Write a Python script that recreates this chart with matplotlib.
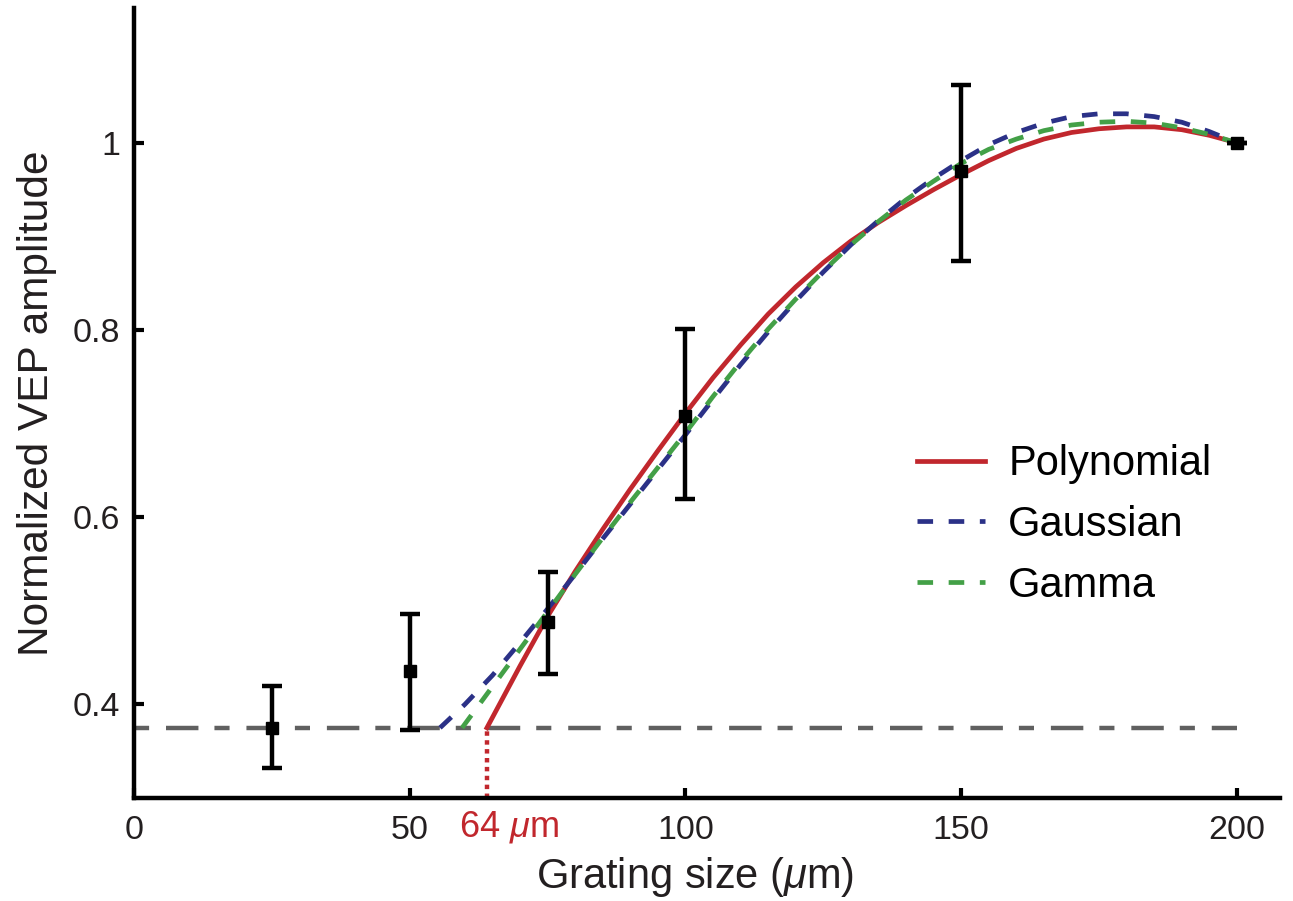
import matplotlib
matplotlib.use("Agg")
import matplotlib.pyplot as plt

plt.rcParams['font.family'] = ['Liberation Sans', 'DejaVu Sans']
plt.rcParams['mathtext.fontset'] = 'custom'
plt.rcParams['mathtext.rm'] = 'Liberation Sans'
plt.rcParams['mathtext.it'] = 'Liberation Sans:italic'

# measured points (grating size in um, normalized amplitude)
grating = [25, 50, 75, 100, 150, 200]
amp = [0.375, 0.436, 0.488, 0.708, 0.970, 1.0]
err_lo = [0.043, 0.063, 0.056, 0.089, 0.096, 0.0]
err_hi = [0.045, 0.061, 0.054, 0.093, 0.092, 0.0]

baseline = 0.375
threshold = 64

# fitted curves
poly_x = [64, 67, 70, 75, 80, 85, 90, 95, 100, 105, 110, 115, 120, 125, 130,
          135, 140, 145, 150, 155, 160, 165, 170, 175, 180, 185, 190, 195, 200]
poly_y = [0.375, 0.408, 0.441, 0.494, 0.542, 0.587, 0.630, 0.671, 0.711, 0.749,
          0.784, 0.817, 0.846, 0.872, 0.895, 0.915, 0.933, 0.950, 0.966, 0.981,
          0.994, 1.004, 1.011, 1.015, 1.017, 1.017, 1.014, 1.008, 1.0]

gauss_x = [55.5, 60, 65, 70, 75, 80, 85, 90, 95, 100, 105, 110, 115, 120, 125,
           130, 135, 140, 145, 150, 155, 160, 165, 170, 175, 180, 185, 190,
           195, 200]
gauss_y = [0.375, 0.400, 0.431, 0.466, 0.502, 0.539, 0.577, 0.614, 0.651, 0.688,
           0.726, 0.763, 0.798, 0.831, 0.862, 0.891, 0.917, 0.941, 0.962, 0.981,
           0.998, 1.011, 1.021, 1.028, 1.031, 1.031, 1.028, 1.022, 1.012, 1.0]

gamma_x = [59.5, 65, 70, 75, 80, 85, 90, 95, 100, 105, 110, 115, 120, 125, 130,
           135, 140, 145, 150, 155, 160, 165, 170, 175, 180, 185, 190, 195, 200]
gamma_y = [0.375, 0.419, 0.459, 0.499, 0.539, 0.578, 0.616, 0.653, 0.690, 0.729,
           0.766, 0.801, 0.833, 0.863, 0.891, 0.916, 0.939, 0.959, 0.978, 0.993,
           1.004, 1.013, 1.019, 1.022, 1.023, 1.021, 1.016, 1.009, 1.0]

red = '#c1272d'
navy = '#2b3187'
green = '#43a047'
gray = '#606060'
ink = '#231f20'

fig = plt.figure(figsize=(12.93, 9.01), dpi=100)
ax = fig.add_axes([0.1036, 0.1143, 0.8863, 0.8768])

ax.plot([0, 200], [baseline, baseline], color=gray, lw=3.2,
        dashes=(3.4, 3.8, 7.3, 3.6), zorder=1)
ax.plot([threshold, threshold], [0.3, baseline], color=red, lw=3.2,
        dashes=(1, 1), zorder=2)

ax.plot(poly_x, poly_y, color=red, lw=3.4, label='Polynomial', zorder=3,
        solid_joinstyle='round')
ax.plot(gauss_x, gauss_y, color=navy, lw=3.4, dashes=(3.3, 3.3),
        label='Gaussian', zorder=3)
ax.plot(gamma_x, gamma_y, color=green, lw=3.4, dashes=(3.3, 3.3),
        label='Gamma', zorder=4)

ax.errorbar(grating, amp, yerr=[err_lo, err_hi], fmt='s', color='black',
            ms=8.5, elinewidth=3.2, capsize=7, capthick=3.2, zorder=5)

ax.set_xlim(0, 207.8)
ax.set_ylim(0.3, 1.144)
ax.set_xticks([0, 50, 100, 150, 200])
ax.set_yticks([0.4, 0.6, 0.8, 1.0])
ax.set_yticklabels(['0.4', '0.6', '0.8', '1'])

for s in ['top', 'right']:
    ax.spines[s].set_visible(False)
for s in ['left', 'bottom']:
    ax.spines[s].set_linewidth(3.2)
ax.tick_params(direction='in', length=7, width=3, labelsize=24.5,
               labelcolor=ink)
ax.tick_params(axis='x', pad=12)
ax.tick_params(axis='y', pad=10)

ax.text(68, 0.288, r'64 $\mu$m', color=red, fontsize=26,
        ha='center', va='top')

ax.set_xlabel(r'Grating size ($\mu$m)', fontsize=30, color=ink)
ax.xaxis.set_label_coords(0.49, -0.072)
ax.set_ylabel('Normalized VEP amplitude', fontsize=30.5, color=ink,
              labelpad=11)

ax.legend(loc='center left', bbox_to_anchor=(0.683, 0.3456), frameon=False,
          fontsize=30, handlelength=1.65, handletextpad=0.55,
          labelspacing=0.5, borderpad=0, borderaxespad=0)

fig.savefig('out.png', dpi=100)
